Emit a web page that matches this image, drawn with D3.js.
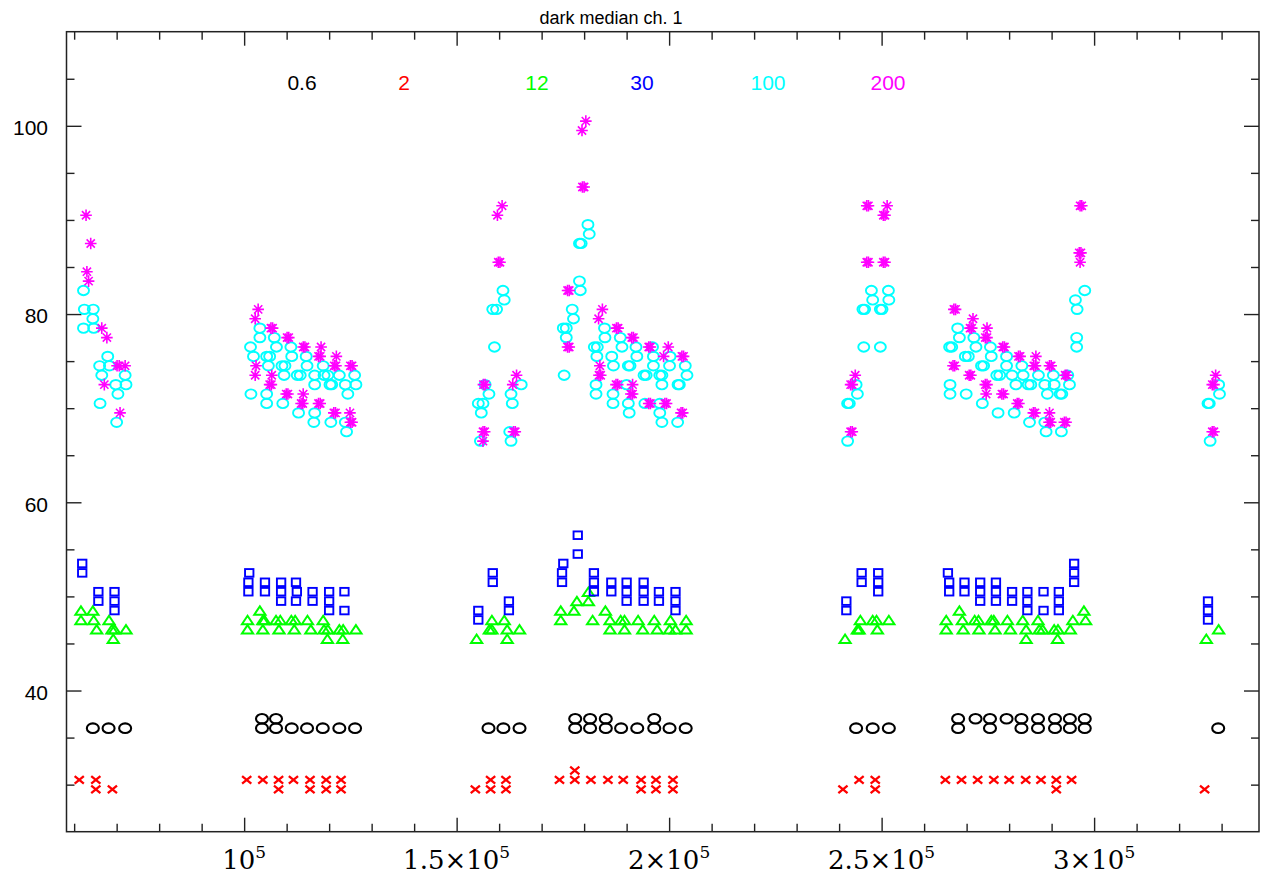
<!DOCTYPE html>
<html>
<head>
<meta charset="utf-8">
<script src="https://cdn.jsdelivr.net/npm/d3@7"></script>
<style>
  body { margin: 0; background: #fff; }
  text { font-family: "Liberation Sans", Arial, sans-serif; }
</style>
</head>
<body>
<svg id="chart" width="1267" height="875"></svg>
<script>
// values: [x, median]
var legendNames = ["0.6", "2", "12", "30", "100", "200"];
var legendColors = ["#000000", "#ff0000", "#00ff00", "#0000ff", "#00ffff", "#ff00ff"];
var legendX = [302, 404, 537, 642, 768, 888];

var xMajorTicks = [100000, 150000, 200000, 250000, 300000];
var yMajorTicks = [40, 60, 80, 100];

var s06 = [
  [64400,36],[68100,36],[72000,36],
  [104200,37],[104200,36],[107500,37],[107500,36],[111200,36],[114800,36],[118500,36],[122400,36],[126100,36],
  [157500,36],[161000,36],[164800,36],
  [177900,37],[177900,36],[181400,37],[181400,36],[185100,37],[185100,36],[188700,36],[192500,36],
  [196500,37],[196500,36],[200100,36],[203900,36],
  [244000,36],[247900,36],[251700,36],
  [268000,37],[268000,36],[272100,37],[275500,37],[275500,36],[279400,37],[282900,37],[282900,36],
  [286800,37],[286800,36],[290800,37],[290800,36],[294300,37],[294300,36],[297800,37],[297800,36],
  [329200,36]
];

var s2 = [
  [61200,30.5],[65100,30.5],[65100,29.5],[69000,29.5],
  [100600,30.5],[104400,30.5],[108100,30.5],[108100,29.5],[111600,30.5],[115500,30.5],[115500,29.5],
  [119300,30.5],[119300,29.5],[122800,30.5],[122800,29.5],
  [154400,29.5],[158000,30.5],[158000,29.5],[161600,30.5],[161600,29.5],
  [174200,30.5],[177800,31.5],[177800,30.5],[181600,30.5],[185600,30.5],[189200,30.5],[193400,30.5],
  [193400,29.5],[196900,30.5],[196900,29.5],[200900,30.5],[200900,29.5],
  [240900,29.5],[244700,30.5],[248500,30.5],[248500,29.5],
  [265000,30.5],[268800,30.5],[272600,30.5],[276400,30.5],[280000,30.5],[283900,30.5],[287500,30.5],
  [291100,30.5],[291100,29.5],[294700,30.5],
  [326000,29.5]
];

var s12 = [
  [61600,48.5],[64400,48.5],[61600,47.5],[64600,47.5],[68200,47.5],[65300,46.5],[68900,46.5],[69500,46.5],
  [72200,46.5],[69200,45.5],
  [100800,47.5],[100800,46.5],[103700,48.5],[104400,47.5],[104800,47.5],[104400,46.5],[107500,47.5],
  [108500,47.5],[108200,46.5],[111100,47.5],[112000,47.5],[111800,46.5],[114900,47.5],[115700,46.5],
  [118600,47.5],[118800,46.5],[119700,46.5],[119600,45.5],[122400,46.5],[123300,46.5],[123200,45.5],
  [126300,46.5],
  [154700,45.5],[158300,47.5],[161200,47.5],[157700,46.5],[158300,46.5],[161900,46.5],[164800,46.5],
  [161900,45.5],
  [174500,48.5],[174500,47.5],[177600,48.5],[178300,49.5],[181000,49.5],[181000,50.5],[182000,47.5],
  [185000,48.5],[186100,47.5],[186100,46.5],[188600,47.5],[189500,47.5],[189500,46.5],[192700,47.5],
  [193800,46.5],[196500,47.5],[197200,46.5],[200300,47.5],[200100,46.5],[201500,46.5],[204000,47.5],
  [204000,46.5],
  [241400,45.5],[244300,46.5],[244700,46.5],[245000,47.5],[247900,47.5],[248800,47.5],[249000,46.5],
  [251700,47.5],
  [265200,47.5],[265200,46.5],[268300,48.5],[269000,47.5],[269200,46.5],[271900,47.5],[272800,47.5],
  [272900,46.5],[275800,47.5],[276400,47.5],[276700,46.5],[279600,47.5],[280300,46.5],[283200,47.5],
  [284000,46.5],[284000,45.5],[286800,47.5],[287100,46.5],[287900,46.5],[290600,46.5],[291500,46.5],
  [291400,45.5],[294400,46.5],[295000,47.5],[297600,48.5],[298000,47.5],
  [326400,45.5],[329300,46.5]
];

var s30 = [
  [61900,53.5],[61900,52.5],[65700,50.5],[65700,49.5],[69500,50.5],[69500,49.5],[69500,48.5],
  [101200,52.5],[101000,51.5],[101000,50.5],[104900,51.5],[104900,50.5],[108700,51.5],[108700,50.5],
  [108700,49.5],[112200,51.5],[112400,50.5],[112200,49.5],[116100,50.5],[116100,49.5],[120000,50.5],
  [120000,49.5],[120000,48.5],[123600,50.5],[123600,48.5],
  [158500,52.5],[158500,51.5],[155100,48.5],[155100,47.5],[162300,49.5],[162300,48.5],
  [175100,53.5],[174800,52.5],[174800,51.5],[178500,56.5],[178500,54.5],[182300,52.5],[182300,51.5],
  [182300,50.5],[186400,51.5],[186400,50.5],[190000,51.5],[190000,50.5],[190000,49.5],[194000,51.5],
  [194000,50.5],[194000,49.5],[197600,50.5],[197600,49.5],[201500,50.5],[201500,49.5],[201500,48.5],
  [241700,49.5],[241700,48.5],[245300,52.5],[245300,51.5],[249200,52.5],[249200,51.5],[249200,50.5],
  [265600,52.5],[265900,51.5],[265900,50.5],[269500,51.5],[269500,50.5],[273200,51.5],[273200,50.5],
  [273200,49.5],[276900,51.5],[276900,50.5],[276900,49.5],[280700,50.5],[280700,49.5],[284300,50.5],
  [284300,49.5],[284300,48.5],[288100,50.5],[288100,48.5],[291700,50.5],[291700,49.5],[291700,48.5],
  [295300,53.5],[295300,52.5],[295300,51.5],
  [326800,49.5],[326800,48.5],[326800,47.5]
];

var s100 = [
  [62200,82.5],[62400,80.5],[64500,80.5],[64400,79.5],[62200,78.5],[64600,78.5],[67900,75.5],[66000,74.5],
  [68300,74.5],[66500,73.5],[72000,73.5],[69800,72.5],[72200,72.5],[70300,71.5],[66100,70.5],[70000,68.5],
  [103700,78.5],[103700,77.5],[107100,77.5],[101500,76.5],[107600,76.5],[111000,76.5],[102200,75.5],
  [105300,75.5],[106000,75.5],[111200,75.5],[114600,75.5],[105700,74.5],[108900,74.5],[109600,74.5],
  [114800,74.5],[118600,74.5],[109400,73.5],[112500,73.5],[113200,73.5],[116600,73.5],[118800,73.5],
  [119700,73.5],[122400,73.5],[126000,73.5],[116600,72.5],[120200,72.5],[120600,72.5],[123800,72.5],
  [126300,72.5],[101600,71.5],[105300,71.5],[124400,71.5],[105300,70.5],[109100,70.5],[112800,69.5],
  [116600,69.5],[116400,68.5],[120400,68.5],[123800,68.5],[124100,67.5],
  [160900,82.5],[161200,81.5],[158500,80.5],[159400,80.5],[158900,76.5],[156700,72.5],[157600,71.5],
  [155100,70.5],[156200,70.5],[155800,69.5],[155600,66.5],[162800,71.5],[163100,70.5],[162800,66.5],
  [162500,67.5],[165200,72.5],
  [180900,89.5],[181200,88.5],[178900,87.5],[179300,87.5],[178900,83.5],[179100,82.5],[177200,80.5],
  [177500,79.5],[175100,78.5],[175800,78.5],[184800,78.5],[175800,77.5],[184900,77.5],[188500,77.5],
  [182400,76.5],[183100,76.5],[188900,76.5],[192200,76.5],[196100,76.5],[183000,75.5],[186500,75.5],
  [192400,75.5],[196300,75.5],[200200,75.5],[186900,74.5],[190400,74.5],[190800,74.5],[196300,74.5],
  [200100,74.5],[203800,74.5],[175300,73.5],[194100,73.5],[194600,73.5],[197800,73.5],[198300,73.5],
  [204200,73.5],[182800,72.5],[190000,72.5],[198300,72.5],[202100,72.5],[202400,72.5],[182800,71.5],
  [186800,71.5],[186800,70.5],[190400,70.5],[194300,70.5],[197800,70.5],[190600,69.5],[197800,69.5],
  [198300,68.5],[202000,68.5],
  [242000,70.5],[242400,70.5],[244300,71.5],[244000,72.5],[242000,66.5],[245800,76.5],[249700,76.5],
  [245600,80.5],[246000,80.5],[247900,81.5],[247600,82.5],[249700,80.5],[250100,80.5],[251700,81.5],
  [251600,82.5],
  [295600,81.5],[297800,82.5],[296000,80.5],[295900,77.5],[295900,76.5],
  [267900,78.5],[268300,77.5],[271700,77.5],[266000,76.5],[266500,76.5],[272200,76.5],[275600,76.5],
  [269700,75.5],[270400,75.5],[275800,75.5],[279400,75.5],[273500,74.5],[274000,74.5],[279400,74.5],
  [283000,74.5],[277100,73.5],[277800,73.5],[280700,73.5],[283300,73.5],[286900,73.5],[290400,73.5],
  [293800,73.5],[266100,72.5],[281600,72.5],[284500,72.5],[285100,72.5],[288400,72.5],[290600,72.5],
  [294200,72.5],[266100,71.5],[269900,71.5],[289000,71.5],[292000,71.5],[292400,71.5],[273700,70.5],
  [277400,69.5],[281200,69.5],[284800,68.5],[288400,68.5],[288700,67.5],[292300,67.5],
  [326800,70.5],[327100,70.5],[327300,66.5],[329300,72.5],[329500,71.5]
];

var s200 = [
  [62800,90.5],[63900,87.5],[63000,84.5],[63400,83.5],[66500,78.5],[67700,77.5],[70100,74.5],[70600,74.5],
  [72000,74.5],[67100,72.5],[70800,69.5],
  [103300,80.5],[102600,79.5],[106300,78.5],[106700,78.5],[110100,77.5],[110500,77.5],[113900,76.5],
  [114300,76.5],[118100,76.5],[117500,75.5],[117900,75.5],[121700,75.5],[102800,74.5],[121200,74.5],
  [121600,74.5],[125000,74.5],[125400,74.5],[102600,73.5],[106500,73.5],[106000,72.5],[106400,72.5],
  [109900,71.5],[110300,71.5],[113900,71.5],[113400,70.5],[113800,70.5],[117500,70.5],[117900,70.5],
  [121100,69.5],[121500,69.5],[124900,69.5],[125000,68.5],[125400,68.5],
  [160700,91.5],[159600,90.5],[159800,85.5],[160200,85.5],[156300,72.5],[156700,72.5],[164100,73.5],
  [163200,72.5],[156200,67.5],[156600,67.5],[156200,66.5],[163400,67.5],[163800,67.5],
  [180400,100.5],[179500,99.5],[179600,93.5],[180000,93.5],[176100,82.5],[176500,82.5],[184300,80.5],
  [183400,79.5],[187600,78.5],[188000,78.5],[191200,77.5],[191600,77.5],[195200,76.5],[195600,76.5],
  [199800,76.5],[198700,75.5],[203000,75.5],[203400,75.5],[176100,76.5],[176500,76.5],[183700,74.5],
  [183500,73.5],[183900,73.5],[187500,72.5],[187900,72.5],[191400,72.5],[191000,71.5],[191400,71.5],
  [195200,70.5],[195600,70.5],[199000,70.5],[199400,70.5],[202800,69.5],[203200,69.5],
  [242700,67.5],[243100,67.5],[243800,73.5],[242700,72.5],[243100,72.5],[246500,91.5],[246900,91.5],
  [251300,91.5],[250400,90.5],[250800,90.5],[246500,85.5],[246900,85.5],[250400,85.5],[250800,85.5],
  [296700,91.5],[297100,91.5],[296500,86.5],[296900,86.5],[296700,85.5],
  [267000,80.5],[267400,80.5],[271500,79.5],[270800,78.5],[271200,78.5],[274800,78.5],[274400,77.5],
  [274800,77.5],[278500,76.5],[278900,76.5],[282200,75.5],[282600,75.5],[286300,75.5],[285800,74.5],
  [286200,74.5],[289500,74.5],[289900,74.5],[293200,73.5],[293600,73.5],[266800,74.5],[267200,74.5],
  [270600,73.5],[271000,73.5],[274400,72.5],[274800,72.5],[274600,71.5],[278300,71.5],[278700,71.5],
  [281900,70.5],[282300,70.5],[285700,69.5],[286100,69.5],[289500,69.5],[289400,68.5],[289800,68.5],
  [293000,68.5],[293400,68.5],
  [328600,73.5],[327800,72.5],[328200,72.5],[327800,67.5],[328200,67.5]
];

// ---- layout ----
var margin = {top: 31.7, left: 66.5};
var width = 1192.5, height = 800;

var svg = d3.select("#chart");
svg.append("rect").attr("width", 1267).attr("height", 875).attr("fill", "#fff");

var g = svg.append("g")
  .attr("transform", "translate(" + margin.left + "," + margin.top + ")");

var x = d3.scaleLinear().domain([58200, 338800]).range([0, width]);
var y = d3.scaleLinear().domain([25, 110]).range([height, 0]);

var xMinor = d3.range(60000, 338000, 10000).filter(function (v) { return xMajorTicks.indexOf(v) < 0; });
var yMinor = d3.range(30, 110, 5).filter(function (v) { return yMajorTicks.indexOf(v) < 0; });

function styleAxis(sel) {
  sel.select(".domain").remove();
  sel.selectAll(".tick line").attr("stroke", "#222").attr("stroke-width", 1.4);
  return sel;
}

// ticks pointing inward on all four sides
g.append("g").attr("transform", "translate(0," + height + ")")
  .call(d3.axisBottom(x).tickValues(xMajorTicks).tickSize(-14).tickFormat(""))
  .call(styleAxis);
g.append("g").attr("transform", "translate(0," + height + ")")
  .call(d3.axisBottom(x).tickValues(xMinor).tickSize(-8).tickFormat(""))
  .call(styleAxis);
g.append("g")
  .call(d3.axisTop(x).tickValues(xMajorTicks).tickSize(-14).tickFormat(""))
  .call(styleAxis);
g.append("g")
  .call(d3.axisTop(x).tickValues(xMinor).tickSize(-8).tickFormat(""))
  .call(styleAxis);

var yAxisG = g.append("g")
  .call(d3.axisLeft(y).tickValues(yMajorTicks).tickSize(-15).tickPadding(18))
  .call(styleAxis);
yAxisG.selectAll(".tick text")
  .attr("font-family", "Liberation Sans, Arial, sans-serif")
  .attr("font-size", 21).attr("fill", "#000").attr("dy", "0.42em")
  .attr("x", -18.5);
g.append("g")
  .call(d3.axisLeft(y).tickValues(yMinor).tickSize(-8).tickFormat(""))
  .call(styleAxis);
g.append("g").attr("transform", "translate(" + width + ",0)")
  .call(d3.axisRight(y).tickValues(yMajorTicks).tickSize(-15).tickFormat(""))
  .call(styleAxis);
g.append("g").attr("transform", "translate(" + width + ",0)")
  .call(d3.axisRight(y).tickValues(yMinor).tickSize(-8).tickFormat(""))
  .call(styleAxis);

// frame
g.append("rect")
  .attr("width", width).attr("height", height)
  .attr("fill", "none").attr("stroke", "#222").attr("stroke-width", 1.5);

// x tick labels like 1.5x10^5
var xLabels = g.append("g").attr("fill", "#000");
xMajorTicks.forEach(function (v) {
  var m = v / 100000;
  var t = xLabels.append("text")
    .attr("x", x(v)).attr("y", height + 37)
    .attr("text-anchor", "middle").attr("font-size", 26)
    .style("font-family", "'DejaVu Serif', serif");
  t.append("tspan").text((m === 1 ? "" : m + "\u00d7") + "10");
  t.append("tspan").attr("dy", -11).attr("font-size", 17).text("5");
});

// title
svg.append("text")
  .attr("x", 611).attr("y", 24)
  .attr("text-anchor", "middle").attr("font-size", 18).attr("fill", "#000")
  .text("dark median ch. 1");

// legend labels
svg.selectAll(".legend").data(legendNames).enter().append("text")
  .attr("class", "legend")
  .attr("x", function (d, i) { return legendX[i]; })
  .attr("y", 90)
  .attr("text-anchor", "middle").attr("font-size", 21)
  .attr("fill", function (d, i) { return legendColors[i]; })
  .text(function (d) { return d; });

// ---- markers ----
var plot = g.append("g");

function drawSeries(data, color, symbol) {
  var sel = plot.append("g").selectAll("g").data(data).enter().append("g")
    .attr("transform", function (d) { return "translate(" + x(d[0]) + "," + y(d[1]) + ")"; });
  symbol(sel, color);
}

function circleMark(rx, ry, sw) {
  return function (sel, color) {
    sel.append("ellipse").attr("rx", rx).attr("ry", ry)
      .attr("fill", "none").attr("stroke", color).attr("stroke-width", sw);
  };
}

function crossMark(sel, color) {
  sel.append("path").attr("d", "M-4.6,-3.8L4.6,3.8M-4.6,3.8L4.6,-3.8")
    .attr("stroke", color).attr("stroke-width", 2.3).attr("fill", "none");
}

function triangleMark(sel, color) {
  sel.append("path").attr("d", "M-5.6,4.2L5.6,4.2L0,-4.2Z")
    .attr("stroke", color).attr("stroke-width", 2).attr("fill", "none");
}

function squareMark(sel, color) {
  sel.append("rect").attr("x", -4.2).attr("y", -3.8).attr("width", 8.4).attr("height", 7.6)
    .attr("stroke", color).attr("stroke-width", 1.9).attr("fill", "none");
}

function starMark(sel, color) {
  var r = 5.8, d = "";
  [0, 45, 90, 135].forEach(function (a) {
    var c = Math.cos(a * Math.PI / 180) * r, s = Math.sin(a * Math.PI / 180) * r;
    d += "M" + (-c) + "," + (-s) + "L" + c + "," + s;
  });
  sel.append("path").attr("d", d)
    .attr("stroke", color).attr("stroke-width", 1.6).attr("fill", "none");
}

drawSeries(s06, legendColors[0], circleMark(6, 4.8, 2.1));
drawSeries(s2, legendColors[1], crossMark);
drawSeries(s12, legendColors[2], triangleMark);
drawSeries(s30, legendColors[3], squareMark);
drawSeries(s100, legendColors[4], circleMark(5.5, 4.7, 1.9));
drawSeries(s200, legendColors[5], starMark);
</script>
</body>
</html>
